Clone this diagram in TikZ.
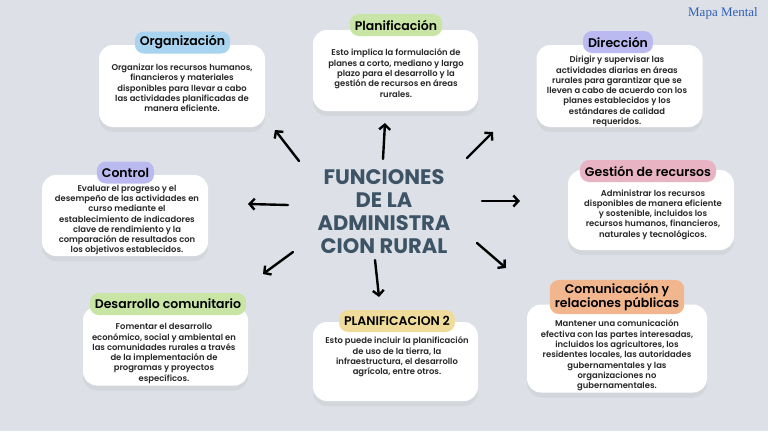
\documentclass[tikz,border=0pt]{standalone}
\usepackage{fontspec}
\setmainfont{Poppins}[BoldFont={Poppins SemiBold}]
\newfontfamily\heavyfont{Poppins}
\newfontfamily\markfont{Liberation Serif}
\usepackage{xcolor}
\usetikzlibrary{arrows.meta,shadows}

\definecolor{bgc}{RGB}{221,225,231}
\definecolor{ttlc}{RGB}{61,83,102}
\definecolor{markc}{RGB}{47,95,180}
\definecolor{cblue}{RGB}{168,212,239}
\definecolor{cgreen}{RGB}{200,229,166}
\definecolor{clav}{RGB}{186,186,240}
\definecolor{cpink}{RGB}{232,180,196}
\definecolor{cyel}{RGB}{240,220,154}
\definecolor{cpeach}{RGB}{242,182,142}

\begin{document}
\begin{tikzpicture}[x=1pt, y=-1pt, font=\bfseries\fontsize{8.4}{10.3}\selectfont, every node/.style={inner sep=2pt}]
        \tikzset{
            card/.style={fill=white, rounded corners=14pt, drop shadow={shadow xshift=0pt, shadow yshift=-5pt, opacity=0.10}},
            txt/.style={align=center, text=black!85},
            pill/.style={rounded corners=9pt, inner xsep=5pt, inner ysep=3pt, minimum height=22pt, font=\bfseries\fontsize{12.5}{14.5}\selectfont, align=center},
            ttl/.style={align=center, text=ttlc, font=\heavyfont\bfseries\fontsize{21}{23}\selectfont},
            arr/.style={-{Straight Barb[length=5pt, width=11pt]}, line width=2.4pt, line cap=round}
        }
        \path[use as bounding box, fill=bgc] (0,0) rectangle (768,431);
        \node[text=markc, font=\markfont\fontsize{13}{15}\selectfont] (mark) at (723,13) {Mapa Mental};
        % cards
        \node[card, minimum width=166pt, minimum height=82pt] (org) at (182,86) {};
        \node[card, minimum width=165pt, minimum height=81pt] (plan) at (395.5,70.5) {};
        \node[card, minimum width=166pt, minimum height=82pt] (dir) at (619.5,86) {};
        \node[card, minimum width=166pt, minimum height=81pt] (ctrl) at (125,215.5) {};
        \node[card, minimum width=166pt, minimum height=80pt] (gest) at (651,210) {};
        \node[card, minimum width=165pt, minimum height=79pt] (desa) at (165.5,346) {};
        \node[card, minimum width=165pt, minimum height=79pt] (plantwo) at (395.5,361.5) {};
        \node[card, minimum width=180pt, minimum height=88pt] (comu) at (617,348.5) {};
        % texts
        \node[txt] (org-t) at (182,88) {Organizar los recursos humanos,\\financieros y materiales\\disponibles para llevar a cabo\\las actividades planificadas de\\manera eficiente.};
        \node[txt] (plan-t) at (396,73) {Esto implica la formulación de\\planes a corto, mediano y largo\\plazo para el desarrollo y la\\gestión de recursos en áreas\\rurales.};
        \node[txt] (dir-t) at (617,91.5) {Dirigir y supervisar las\\actividades diarias en áreas\\rurales para garantizar que se\\lleven a cabo de acuerdo con los\\planes establecidos y los\\estándares de calidad\\requeridos.};
        \node[txt] (ctrl-t) at (127,220) {Evaluar el progreso y el\\desempeño de las actividades en\\curso mediante el\\establecimiento de indicadores\\clave de rendimiento y la\\comparación de resultados con\\los objetivos establecidos.};
        \node[txt] (gest-t) at (653,214.5) {Administrar los recursos\\disponibles de manera eficiente\\y sostenible, incluidos los\\recursos humanos, financieros,\\naturales y tecnológicos.};
        \node[txt] (desa-t) at (164,353.5) {Fomentar el desarrollo\\económico, social y ambiental en\\las comunidades rurales a través\\de la implementación de\\programas y proyectos\\específicos.};
        \node[txt] (plantwo-t) at (397,357) {Esto puede incluir la planificación\\de uso de la tierra, la\\infraestructura, el desarrollo\\agrícola, entre otros.};
        \node[txt] (comu-t) at (617,355.5) {Mantener una comunicación\\efectiva con las partes interesadas,\\incluidos los agricultores, los\\residentes locales, las autoridades\\gubernamentales y las\\organizaciones no\\gubernamentales.};
        % labels
        \node[pill, fill=cblue] (org-l) at (182.5,42.5) {Organización};
        \node[pill, fill=cgreen] (plan-l) at (396,25) {Planificación};
        \node[pill, fill=clav] (dir-l) at (618,42) {Dirección};
        \node[pill, fill=clav] (ctrl-l) at (125.5,172.5) {Control};
        \node[pill, fill=cpink] (gest-l) at (648,171) {Gestión de recursos};
        \node[pill, fill=cgreen] (desa-l) at (168,304) {Desarrollo comunitario};
        \node[pill, fill=cyel] (plantwo-l) at (397,321) {PLANIFICACION 2};
        \node[pill, fill=cpeach] (comu-l) at (617,297) {Comunicación y\\relaciones públicas};
        % centre
        \node[ttl] (main) at (384,212) {FUNCIONES\\DE LA\\ADMINISTRA\\CION RURAL};
        % arrows
        \coordinate (from-org) at (299,161);   \coordinate (to-org) at (275,130);
        \coordinate (from-plan) at (383,159);  \coordinate (to-plan) at (385,123);
        \coordinate (from-dir) at (467,158);   \coordinate (to-dir) at (493,132);
        \coordinate (from-ctrl) at (288,205);  \coordinate (to-ctrl) at (248,204);
        \coordinate (from-gest) at (482,201);  \coordinate (to-gest) at (520,201);
        \coordinate (from-desa) at (293,252);  \coordinate (to-desa) at (263,274);
        \coordinate (from-plantwo) at (375,260); \coordinate (to-plantwo) at (379,297);
        \coordinate (from-comu) at (477,243);  \coordinate (to-comu) at (506,268);
        \draw[arr] (from-org) -- (to-org);
        \draw[arr] (from-plan) -- (to-plan);
        \draw[arr] (from-dir) -- (to-dir);
        \draw[arr] (from-ctrl) -- (to-ctrl);
        \draw[arr] (from-gest) -- (to-gest);
        \draw[arr] (from-desa) -- (to-desa);
        \draw[arr] (from-plantwo) -- (to-plantwo);
        \draw[arr] (from-comu) -- (to-comu);
    \end{tikzpicture}
\end{document}
